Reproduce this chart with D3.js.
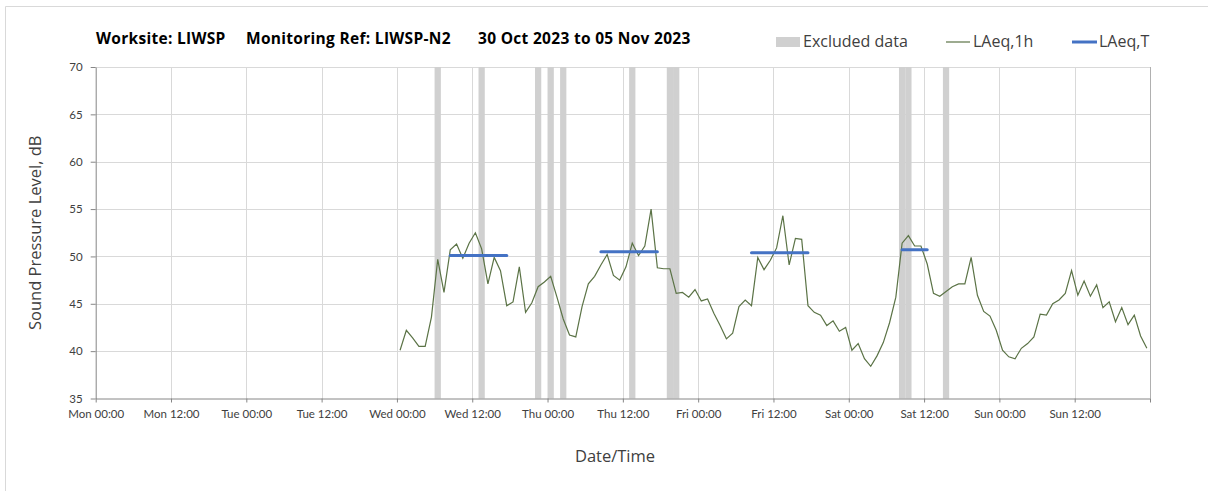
<!DOCTYPE html>
<html>
<head>
<meta charset="utf-8">
<script src="https://cdn.jsdelivr.net/npm/d3@7"></script>
<style>
  body { margin: 0; background: #fff; }
  text { font-family: "Open Sans", Lato, sans-serif; }
</style>
</head>
<body>
<svg id="chart"></svg>
<script>
// hourly LAeq,1h values from Wed 01 Nov 2023 00:00, one per hour
const seriesStart = new Date(2023, 10, 1, 0, 0);
const laeq1h = [
  40.1, 42.2, 41.4, 40.5, 40.5, 43.6, 49.7, 46.2, 50.7, 51.3, 49.8, 51.4,
  52.5, 50.8, 47.1, 49.9, 48.5, 44.8, 45.2, 48.9, 44.1, 45.1, 46.8, 47.3,
  47.9, 45.7, 43.4, 41.7, 41.5, 44.7, 47.1, 47.9, 49.1, 50.2, 48.0, 47.5,
  48.9, 51.4, 50.1, 51.1, 55.0, 48.8, 48.7, 48.7, 46.1, 46.2, 45.7, 46.5,
  45.3, 45.5, 44.0, 42.7, 41.3, 41.9, 44.7, 45.4, 44.8, 49.9, 48.6, 49.6,
  50.9, 54.3, 49.1, 51.9, 51.8, 44.8, 44.1, 43.8, 42.7, 43.2, 42.1, 42.5,
  40.1, 40.8, 39.2, 38.4, 39.5, 40.9, 43.0, 45.7, 51.4, 52.2, 51.1, 51.1,
  49.2, 46.1, 45.8, 46.3, 46.8, 47.1, 47.1, 49.9, 45.9, 44.2, 43.7, 42.2,
  40.1, 39.4, 39.2, 40.3, 40.8, 41.5, 43.9, 43.8, 45.0, 45.4, 46.1, 48.5,
  45.9, 47.4, 45.8, 47.0, 44.6, 45.2, 43.1, 44.6, 42.8, 43.8, 41.6, 40.3
];

// LAeq,T over the daytime periods (first and last hour included)
const periodStarts = ["2023-11-01 08:00", "2023-11-02 08:00", "2023-11-03 08:00", "2023-11-04 08:00"];
const periodEnds   = ["2023-11-01 17:00", "2023-11-02 17:00", "2023-11-03 17:00", "2023-11-04 12:00"];
const periodValues = [50.1, 50.5, 50.4, 50.7];

// hours flagged as excluded data
const excludedHours = [
  "2023-11-01 06:00", "2023-11-01 13:00", "2023-11-01 22:00",
  "2023-11-02 00:00", "2023-11-02 02:00", "2023-11-02 13:00",
  "2023-11-02 19:00", "2023-11-02 20:00",
  "2023-11-04 08:00", "2023-11-04 09:00", "2023-11-04 15:00"
];

const yTicks = [35, 40, 45, 50, 55, 60, 65, 70];
const axisStart = new Date(2023, 9, 30, 0, 0);
const axisEnd = new Date(2023, 10, 6, 0, 0);

const titleParts = ["Worksite: LIWSP", "Monitoring Ref: LIWSP-N2", "30 Oct 2023 to 05 Nov 2023"];
const legendLabels = ["Excluded data", "LAeq,1h", "LAeq,T"];

const W = 1208, H = 491;
const plot = { left: 95.7, right: 1150, top: 67, bottom: 398.5 };

const parseHour = d3.timeParse("%Y-%m-%d %H:%M");
const halfHour = d => d3.timeMinute.offset(d, 30);

const x = d3.scaleTime()
  .domain([axisStart, axisEnd])
  .range([plot.left, plot.right]);

const y = d3.scaleLinear()
  .domain([35, 70])
  .range([plot.bottom, plot.top]);

const svg = d3.select("svg#chart")
  .attr("width", W)
  .attr("height", H);

// outer frame (right and bottom edges fall off the picture)
svg.append("path")
  .attr("d", `M5.5,${H}V6.5H${W}`)
  .attr("fill", "none")
  .attr("stroke", "#d9d9d9");

// TITLE
const titleX = [96, 246, 478];
svg.selectAll(".title")
  .data(titleParts)
  .enter().append("text")
  .attr("class", "title")
  .attr("x", (d, i) => titleX[i])
  .attr("y", 44)
  .attr("font-size", 15.5)
  .attr("font-weight", "bold")
  .attr("letter-spacing", 0.3)
  .attr("fill", "#000")
  .text(d => d);

// GRIDLINES
const xTicks = d3.timeHour.every(12).range(axisStart, d3.timeHour.offset(axisEnd, 1));

svg.append("g")
  .selectAll("line")
  .data(yTicks.slice(1))
  .enter().append("line")
  .attr("x1", plot.left).attr("x2", plot.right)
  .attr("y1", d => Math.round(y(d)) + 0.5).attr("y2", d => Math.round(y(d)) + 0.5)
  .attr("stroke", "#d9d9d9");

svg.append("g")
  .selectAll("line")
  .data(xTicks.slice(1))
  .enter().append("line")
  .attr("x1", d => Math.round(x(d)) + 0.5).attr("x2", d => Math.round(x(d)) + 0.5)
  .attr("y1", plot.top).attr("y2", plot.bottom)
  .attr("stroke", (d, i, n) => i === n.length - 1 ? "#b0b0b0" : "#d9d9d9");

// EXCLUDED DATA
svg.append("g")
  .selectAll("rect")
  .data(excludedHours.map(parseHour))
  .enter().append("rect")
  .attr("x", d => x(d))
  .attr("width", d => x(d3.timeHour.offset(d, 1)) - x(d))
  .attr("y", plot.top)
  .attr("height", plot.bottom - plot.top)
  .attr("fill", "#d0d0d0");

// LAeq,1h LINE
const points = laeq1h.map((v, i) => ({ t: halfHour(d3.timeHour.offset(seriesStart, i)), v: v }));

svg.append("path")
  .datum(points)
  .attr("fill", "none")
  .attr("stroke", "#5b7346")
  .attr("stroke-width", 1.2)
  .attr("d", d3.line().x(d => x(d.t)).y(d => y(d.v)));

// LAeq,T LINES
svg.append("g")
  .selectAll("line")
  .data(periodValues)
  .enter().append("line")
  .attr("x1", (d, i) => x(halfHour(parseHour(periodStarts[i]))))
  .attr("x2", (d, i) => x(halfHour(parseHour(periodEnds[i]))))
  .attr("y1", d => y(d)).attr("y2", d => y(d))
  .attr("stroke", "#4472c4")
  .attr("stroke-width", 3)
  .attr("stroke-linecap", "round");

// AXES
const fmt = d3.timeFormat("%a %H:%M");

const xAxis = d3.axisBottom(x)
  .tickValues(xTicks)
  .tickSizeInner(4)
  .tickSizeOuter(0)
  .tickPadding(7)
  .tickFormat(d => +d === +axisEnd ? "" : fmt(d));

const yAxis = d3.axisLeft(y)
  .tickValues(yTicks)
  .tickSizeInner(5)
  .tickSizeOuter(0)
  .tickPadding(8);

const gx = svg.append("g")
  .attr("transform", "translate(0," + plot.bottom + ")")
  .call(xAxis);

const gy = svg.append("g")
  .attr("transform", "translate(" + plot.left + ",0)")
  .call(yAxis);

[gx, gy].forEach(g => {
  g.select(".domain").attr("stroke", "#868686");
  g.selectAll(".tick line").attr("stroke", "#868686");
  g.selectAll(".tick text")
    .attr("fill", "#404040")
    .attr("font-size", 11.5)
    .style("font-family", "Lato, 'Open Sans', sans-serif");
});

// AXIS TITLES
svg.append("text")
  .attr("transform", "translate(41," + (plot.top + plot.bottom) / 2 + ") rotate(-90)")
  .attr("text-anchor", "middle")
  .attr("font-size", 16.5)
  .attr("fill", "#404040")
  .text("Sound Pressure Level, dB");

svg.append("text")
  .attr("x", 615)
  .attr("y", 462)
  .attr("text-anchor", "middle")
  .attr("font-size", 16.5)
  .attr("fill", "#404040")
  .text("Date/Time");

// LEGEND
const legend = svg.append("g");

legend.append("rect")
  .attr("x", 776).attr("y", 37)
  .attr("width", 24).attr("height", 10)
  .attr("fill", "#d0d0d0");

legend.append("line")
  .attr("x1", 946).attr("x2", 970)
  .attr("y1", 42).attr("y2", 42)
  .attr("stroke", "#5b7346")
  .attr("stroke-width", 1.2);

legend.append("line")
  .attr("x1", 1072).attr("x2", 1097)
  .attr("y1", 42).attr("y2", 42)
  .attr("stroke", "#4472c4")
  .attr("stroke-width", 3);

const legendX = [803, 973, 1099];
legend.selectAll("text")
  .data(legendLabels)
  .enter().append("text")
  .attr("x", (d, i) => legendX[i])
  .attr("y", 47)
  .attr("font-size", 16)
  .attr("fill", "#404040")
  .text(d => d);
</script>
</body>
</html>
